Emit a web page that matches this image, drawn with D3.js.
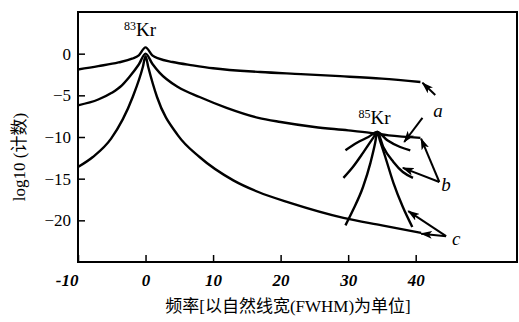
<!DOCTYPE html>
<html>
<head>
<meta charset="utf-8">
<script src="https://cdn.jsdelivr.net/npm/d3@7"></script>
<style>
  body { margin: 0; background: #fff; }
  svg { display: block; }
</style>
</head>
<body>
<div id="chart"></div>
<script>
// curves: [frequency, log10 counts]
var kr83a = [[-10,-1.9],[-7,-1.5],[-4,-1.05],[-2,-0.6],[-1,-0.2],[0,0.75],[1,-0.2],[2,-0.6],[4,-1.0],[7,-1.4],[10,-1.75],[17,-2.2],[23,-2.45],[28.8,-2.7],[35,-3.0],[40.7,-3.4]];
var kr83b = [[-10,-6.2],[-7,-5.5],[-5,-4.7],[-3.5,-3.8],[-2.4,-2.8],[-1,-1.3],[0,0.0],[1,-1.2],[2.1,-2.3],[4.8,-4.0],[8,-5.2],[12,-6.5],[16.7,-7.7],[20,-8.2],[25,-8.8],[30,-9.2],[33.3,-9.5],[36,-9.8],[40.7,-10.1]];
var kr83c = [[-10,-13.6],[-7.8,-12.4],[-5.1,-10.2],[-1.9,-5.2],[-0.4,-1.6],[0,-0.3],[0.4,-1.6],[1.7,-5.2],[4.8,-9.8],[8,-12.4],[13,-15.2],[16.7,-16.6],[21.4,-17.9],[29.3,-19.7],[35,-20.6],[40.8,-21.5]];
var kr85a = [[29.6,-11.6],[31.3,-10.7],[33,-10.0],[34.3,-9.4],[35.8,-10.4],[37.7,-11.2],[39.2,-11.6]];
var kr85b = [[29.3,-14.9],[30.7,-13.6],[32.2,-11.9],[33.7,-10.1],[34.3,-9.4],[35.2,-11.2],[36.7,-13.0],[38.1,-14.2],[39.6,-14.9]];
var kr85c = [[29.6,-20.6],[30.7,-18.8],[32.2,-16.0],[33.3,-13.1],[34.0,-10.7],[34.3,-9.4],[34.7,-10.4],[35.5,-12.4],[36.7,-15.5],[38.1,-18.4],[39.5,-20.8]];

var xTicks = [-10, 0, 10, 20, 30, 40];
var yTicks = [0, -5, -10, -15, -20];

// arrows: [fromX, fromY, toX, toY]
var arrows = [
  [42.9,-4.96,41.0,-3.5],
  [41.0,-7.7,38.3,-10.6],
  [43.5,-15.4,40.8,-10.2],
  [43.5,-15.4,38.1,-13.7],
  [44.5,-21.9,38.9,-18.9],
  [44.5,-21.9,40.8,-21.6]
];
var letters = [["a",43.3,-7.6],["b",44.5,-16.5],["c",46,-23]];

var width = 519, height = 322;
var svg = d3.select("#chart").append("svg")
  .attr("width", width)
  .attr("height", height);

var x = d3.scaleLinear().domain([-10, 55]).range([78, 517]);
var y = d3.scaleLinear().domain([-25, 5]).range([262, 12]);

svg.append("defs").append("marker")
  .attr("id", "head")
  .attr("markerUnits", "userSpaceOnUse")
  .attr("viewBox", "0 0 12 8")
  .attr("refX", 11).attr("refY", 4)
  .attr("markerWidth", 12).attr("markerHeight", 8)
  .attr("orient", "auto")
  .append("path")
  .attr("d", "M0,0 L12,4 L0,8 L3,4 Z")
  .attr("fill", "#000");

// frame
svg.append("rect")
  .attr("x", 78).attr("y", 12)
  .attr("width", 439).attr("height", 250)
  .attr("fill", "none")
  .attr("stroke", "#000")
  .attr("stroke-width", 2);

// axes with inward ticks
var xAxis = svg.append("g")
  .attr("transform", "translate(0,262)")
  .call(d3.axisBottom(x).tickValues(xTicks).tickSize(-7).tickPadding(12).tickFormat(d3.format("d")));
xAxis.select(".domain").remove();
xAxis.selectAll("line").attr("stroke-width", 1.5);
xAxis.selectAll("text")
  .style("font-family", "Liberation Serif, DejaVu Serif, serif")
  .style("font-size", "17px")
  .style("font-style", "italic")
  .style("font-weight", "bold")
  .attr("fill", "#000")
  .attr("text-anchor", function(d) { return d === -10 ? "end" : "middle"; })
  .text(function(d) { return d < 0 ? "-" + (-d) : d; });

var yAxis = svg.append("g")
  .attr("transform", "translate(78,0)")
  .call(d3.axisLeft(y).tickValues(yTicks).tickSize(-7).tickPadding(7).tickFormat(function(d) { return d < 0 ? "\u2212" + (-d) : d; }));
yAxis.select(".domain").remove();
yAxis.selectAll("line").attr("stroke-width", 1.5);
yAxis.selectAll("text")
  .style("font-family", "Liberation Serif, DejaVu Serif, serif")
  .style("font-size", "17px")
  .attr("fill", "#000");

// curves
var line = d3.line()
  .x(function(d) { return x(d[0]); })
  .y(function(d) { return y(d[1]); })
  .curve(d3.curveMonotoneX);

svg.selectAll(".curve")
  .data([kr83a, kr83b, kr83c, kr85a, kr85b, kr85c])
  .enter().append("path")
  .attr("class", "curve")
  .attr("d", line)
  .attr("fill", "none")
  .attr("stroke", "#000")
  .attr("stroke-width", 2.4);

svg.selectAll(".arrow")
  .data(arrows)
  .enter().append("line")
  .attr("class", "arrow")
  .attr("x1", function(d) { return x(d[0]); })
  .attr("y1", function(d) { return y(d[1]); })
  .attr("x2", function(d) { return x(d[2]); })
  .attr("y2", function(d) { return y(d[3]); })
  .attr("stroke", "#000")
  .attr("stroke-width", 2)
  .attr("marker-end", "url(#head)");

svg.selectAll(".letter")
  .data(letters)
  .enter().append("text")
  .attr("class", "letter")
  .attr("x", function(d) { return x(d[1]); })
  .attr("y", function(d) { return y(d[2]); })
  .attr("text-anchor", "middle")
  .style("font-family", "Liberation Serif, DejaVu Serif, serif")
  .style("font-size", "19px")
  .style("font-style", "italic")
  .text(function(d) { return d[0]; });

// isotope labels
function isotope(mass, cx, cy) {
  var t = svg.append("text")
    .attr("x", x(cx)).attr("y", y(cy))
    .attr("text-anchor", "middle")
    .style("font-family", "Liberation Serif, DejaVu Serif, serif")
    .style("font-size", "19px");
  t.append("tspan").attr("dy", -6).style("font-size", "12px").text(mass);
  t.append("tspan").attr("dy", 6).text("Kr");
}
isotope("83", -0.8, 2.1);
isotope("85", 33.9, -8.4);

// axis titles
svg.append("text")
  .attr("transform", "translate(25,157) rotate(-90)")
  .attr("text-anchor", "middle")
  .style("font-family", "Liberation Serif, Noto Sans CJK SC, serif")
  .style("font-size", "17px")
  .text("log10 (计数)");

svg.append("text")
  .attr("x", 288).attr("y", 312)
  .attr("text-anchor", "middle")
  .style("font-family", "Liberation Serif, Noto Sans CJK SC, serif")
  .style("font-size", "17px")
  .text("频率[以自然线宽(FWHM)为单位]");
</script>
</body>
</html>
